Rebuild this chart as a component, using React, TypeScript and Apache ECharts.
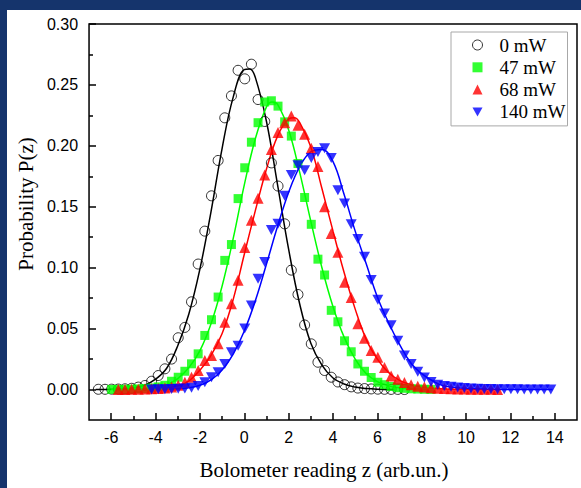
import React, { useEffect, useRef } from "react";
import * as echarts from "echarts";

// Bin centres of the measured histograms (bolometer reading z)
const zGrid = [
  -6.58, -6.28, -5.98, -5.68, -5.38, -5.08, -4.78, -4.48, -4.18, -3.88,
  -3.58, -3.28, -2.98, -2.68, -2.38, -2.08, -1.78, -1.48, -1.18, -0.88,
  -0.58, -0.28, 0.02, 0.32, 0.62, 0.92, 1.22, 1.52, 1.82, 2.12,
  2.42, 2.72, 3.02, 3.32, 3.62, 3.92, 4.22, 4.52, 4.82, 5.12,
  5.42, 5.72, 6.02, 6.32, 6.62, 6.92, 7.22, 7.52, 7.82, 8.12,
  8.42, 8.72, 9.02, 9.32, 9.62, 9.92, 10.22, 10.52, 10.82, 11.12,
  11.42, 11.72, 12.02, 12.32, 12.62, 12.92, 13.22, 13.52, 13.82,
];

// Measured probabilities, each starting at an index of zGrid
const p0Start = 0;
const p0mW = [
  0.0002, 0.0002, 0.0003, 0.0004, 0.0006, 0.001, 0.002, 0.0033, 0.0068, 0.0115,
  0.017, 0.025, 0.0425, 0.051, 0.072, 0.103, 0.13, 0.159, 0.188, 0.223,
  0.241, 0.262, 0.255, 0.267, 0.238, 0.22, 0.186, 0.167, 0.136, 0.098,
  0.078, 0.053, 0.0375, 0.0224, 0.0156, 0.0101, 0.0062, 0.004, 0.0022, 0.0012,
  0.0008, 0.0005, 0.0003, 0.0002, 0.0001, 0.0001, 0.0,
];
const p47Start = 2;
const p47mW = [
  0.0001, 0.0001, 0.0002, 0.0003, 0.0005, 0.0008, 0.0013, 0.0022, 0.0035, 0.0068,
  0.0101, 0.015, 0.0211, 0.0293, 0.0444, 0.0573, 0.0759, 0.106, 0.119, 0.1567,
  0.182, 0.203, 0.219, 0.236, 0.237, 0.2326, 0.2197, 0.208, 0.1855, 0.1576,
  0.1356, 0.107, 0.094, 0.065, 0.0556, 0.04, 0.031, 0.021, 0.015, 0.0099,
  0.006, 0.004, 0.0025, 0.0015, 0.001, 0.0006, 0.0004, 0.0002, 0.0001,
];
const p68Start = 3;
const p68mW = [
  0.0001, 0.0001, 0.0002, 0.0003, 0.0004, 0.0006, 0.0009, 0.0013, 0.002, 0.0035,
  0.006, 0.0101, 0.0156, 0.0238, 0.028, 0.0375, 0.0553, 0.0704, 0.0896, 0.1165,
  0.139, 0.157, 0.176, 0.197, 0.211, 0.219, 0.2244, 0.217, 0.2096, 0.198,
  0.183, 0.15, 0.128, 0.1126, 0.088, 0.0756, 0.054, 0.042, 0.032, 0.0265,
  0.018, 0.0112, 0.0084, 0.0058, 0.004, 0.0028, 0.002, 0.0014, 0.001, 0.0008,
  0.0006, 0.0005, 0.0004, 0.0003, 0.0003, 0.0002, 0.0002, 0.0001,
];
const p140Start = 8;
const p140mW = [
  0.0001, 0.0002, 0.0003, 0.0004, 0.0006, 0.0009, 0.0014, 0.003, 0.006, 0.0101,
  0.0142, 0.021, 0.0307, 0.036, 0.05, 0.069, 0.091, 0.1046, 0.131, 0.136,
  0.159, 0.176, 0.184, 0.18, 0.19, 0.195, 0.198, 0.19, 0.1636, 0.1526,
  0.1356, 0.1236, 0.109, 0.09, 0.0736, 0.0625, 0.0528, 0.04, 0.0279, 0.021,
  0.0145, 0.0099, 0.0062, 0.004, 0.003, 0.0022, 0.0016, 0.0012, 0.0009, 0.0007,
  0.0005, 0.0004, 0.0003, 0.0003, 0.0002, 0.0002, 0.0001, 0.0001, 0.0001, 0.0001,
  0.0,
];

// Fitted curves
const fit0Z = [-6.7, -6, -5.5, -5, -4.5, -4, -3.5, -3, -2.5, -2, -1.5, -1, -0.5, 0, 0.25, 0.5, 1, 1.5, 2, 2.5, 3, 3.5, 4, 4.5, 5, 5.5, 6, 6.74];
const fit0P = [0, 0.0002, 0.0005, 0.0012, 0.0035, 0.0085, 0.0175, 0.036, 0.062, 0.099, 0.146, 0.198, 0.24, 0.2625, 0.263, 0.256, 0.22, 0.168, 0.115, 0.07, 0.038, 0.02, 0.0095, 0.0045, 0.002, 0.0008, 0.0003, 0.0001];
const fit47Z = [-6, -5, -4, -3.5, -3, -2.5, -2, -1.5, -1, -0.5, 0, 0.5, 1, 1.25, 1.5, 2, 2.5, 3, 3.5, 4, 4.5, 5, 5.5, 6, 6.5, 7, 7.5, 8.3];
const fit47P = [0.0001, 0.0003, 0.0015, 0.004, 0.009, 0.018, 0.032, 0.054, 0.085, 0.124, 0.168, 0.206, 0.232, 0.236, 0.234, 0.213, 0.178, 0.138, 0.1, 0.068, 0.043, 0.025, 0.013, 0.0065, 0.003, 0.0013, 0.0006, 0.0001];
const fit68Z = [-5.7, -5, -4, -3, -2.5, -2, -1.5, -1, -0.5, 0, 0.5, 1, 1.5, 2, 2.25, 2.5, 3, 3.5, 4, 4.5, 5, 5.5, 6, 6.5, 7, 7.5, 8, 9, 10, 11.5];
const fit68P = [0.0001, 0.0002, 0.0008, 0.003, 0.007, 0.016, 0.028, 0.046, 0.074, 0.111, 0.147, 0.181, 0.208, 0.222, 0.223, 0.219, 0.199, 0.165, 0.13, 0.096, 0.066, 0.041, 0.025, 0.014, 0.0075, 0.004, 0.002, 0.0005, 0.0002, 0];
const fit140Z = [-4.2, -3, -2.5, -2, -1.5, -1, -0.5, 0, 0.5, 1, 1.5, 2, 2.5, 3, 3.5, 4, 4.5, 5, 5.5, 6, 6.5, 7, 7.5, 8, 8.5, 9, 10, 11, 12, 13.9];
const fit140P = [0.0001, 0.0006, 0.0015, 0.0035, 0.008, 0.016, 0.029, 0.048, 0.073, 0.103, 0.134, 0.162, 0.183, 0.195, 0.197, 0.187, 0.16, 0.13, 0.103, 0.076, 0.055, 0.037, 0.022, 0.013, 0.007, 0.003, 0.001, 0.0003, 0.0001, 0];

const seriesNames = ["0 mW", "47 mW", "68 mW", "140 mW"];

// Axis ticks
const zMajor = [-6, -4, -2, 0, 2, 4, 6, 8, 10, 12, 14];
const zMinor = [-5, -3, -1, 1, 3, 5, 7, 9, 11, 13];
const pMajor = [0, 0.05, 0.1, 0.15, 0.2, 0.25, 0.3];
const pMinor = [0.025, 0.075, 0.125, 0.175, 0.225, 0.275];

const INV_TRI = "path://M0,0L10,0L5,9Z";

function measured(start: number, vals: number[]) {
  return vals.map((p, i) => [zGrid[start + i], p]);
}
function curve(zs: number[], ps: number[]) {
  return zs.map((z, i) => [z, ps[i]]);
}

export default function App() {
  const ref = useRef<HTMLDivElement>(null);

  useEffect(() => {
    if (!ref.current) return;
    const chart = echarts.init(ref.current, null, { renderer: "svg" });
    const tickStyle = { color: "#000", width: 1.5 };
    const hiddenLine = { show: false, onZero: false };
    const lineSeries = (name: string, data: number[][], color: string) => ({
      name,
      type: "line",
      data,
      smooth: 0.4,
      showSymbol: false,
      silent: true,
      lineStyle: { color, width: 1.5 },
      itemStyle: { color },
      z: 2,
    });
    const option = {
      animation: false,
      backgroundColor: "#ffffff",
      grid: {
        left: 80,
        top: 14,
        right: 4,
        bottom: 68,
        show: true,
        borderColor: "#000",
        borderWidth: 1.5,
        backgroundColor: "transparent",
      },
      legend: {
        orient: "vertical",
        left: 444,
        top: 22,
        itemWidth: 10,
        itemHeight: 10,
        itemGap: 2.3,
        padding: [3, 2, 4, 21],
        borderColor: "#a8a8a8",
        borderWidth: 1,
        selectedMode: false,
        textStyle: {
          fontFamily: "Liberation Serif",
          fontSize: 19,
          lineHeight: 20,
          width: 66,
          overflow: "none",
          color: "#000",
          padding: [0, 0, 0, 12],
        },
        data: [
          { name: seriesNames[0], icon: "circle", itemStyle: { color: "rgba(0,0,0,0)", borderColor: "#000", borderWidth: 1 } },
          { name: seriesNames[1], icon: "rect", itemStyle: { color: "#00ff00", borderWidth: 0 } },
          { name: seriesNames[2], icon: "triangle", itemStyle: { color: "#ff0000", borderWidth: 0 } },
          { name: seriesNames[3], icon: INV_TRI, itemStyle: { color: "#0000ff", borderWidth: 0 } },
        ],
      },
      xAxis: [
        {
          type: "value",
          min: -7,
          max: 15,
          position: "bottom",
          axisLine: hiddenLine,
          splitLine: { show: false },
          axisTick: { show: true, inside: true, length: 7, customValues: zMajor, lineStyle: tickStyle },
          axisLabel: {
            customValues: zMajor,
            margin: 9,
            color: "#000",
            fontFamily: "Liberation Sans",
            fontSize: 16,
          },
          name: "Bolometer reading z (arb.un.)",
          nameLocation: "middle",
          nameGap: 39,
          nameTextStyle: {
            fontFamily: "Liberation Serif",
            fontSize: 21,
            color: "#000",
            padding: [0, 18, 0, 0],
          },
        },
        {
          type: "value",
          min: -7,
          max: 15,
          position: "bottom",
          axisLine: hiddenLine,
          splitLine: { show: false },
          axisTick: { show: true, inside: true, length: 4, customValues: zMinor, lineStyle: tickStyle },
          axisLabel: { show: false },
        },
      ],
      yAxis: [
        {
          type: "value",
          min: -0.025,
          max: 0.3,
          position: "left",
          axisLine: hiddenLine,
          splitLine: { show: false },
          axisTick: { show: true, inside: true, length: 7, customValues: pMajor, lineStyle: tickStyle },
          axisLabel: {
            customValues: pMajor,
            margin: 11,
            color: "#000",
            fontFamily: "Liberation Sans",
            fontSize: 16,
            formatter: (v: number) => v.toFixed(2),
          },
          name: "Probability P(z)",
          nameLocation: "middle",
          nameGap: 53,
          nameTextStyle: {
            fontFamily: "Liberation Serif",
            fontSize: 21,
            color: "#000",
            padding: [0, 0, 0, 36],
          },
        },
        {
          type: "value",
          min: -0.025,
          max: 0.3,
          position: "left",
          axisLine: hiddenLine,
          splitLine: { show: false },
          axisTick: { show: true, inside: true, length: 4, customValues: pMinor, lineStyle: tickStyle },
          axisLabel: { show: false },
        },
      ],
      series: [
        lineSeries("fit 0", curve(fit0Z, fit0P), "#000000"),
        {
          name: seriesNames[0],
          type: "scatter",
          data: measured(p0Start, p0mW),
          symbol: "circle",
          symbolSize: 10,
          itemStyle: { color: "rgba(0,0,0,0)", borderColor: "#000", borderWidth: 1 },
          z: 3,
        },
        lineSeries("fit 47", curve(fit47Z, fit47P), "#00ff00"),
        {
          name: seriesNames[1],
          type: "scatter",
          data: measured(p47Start, p47mW),
          symbol: "rect",
          symbolSize: 9,
          itemStyle: { color: "#00ff00" },
          z: 3,
        },
        lineSeries("fit 68", curve(fit68Z, fit68P), "#ff0000"),
        {
          name: seriesNames[2],
          type: "scatter",
          data: measured(p68Start, p68mW),
          symbol: "triangle",
          symbolSize: 11,
          itemStyle: { color: "#ff0000" },
          z: 3,
        },
        lineSeries("fit 140", curve(fit140Z, fit140P), "#0000ff"),
        {
          name: seriesNames[3],
          type: "scatter",
          data: measured(p140Start, p140mW),
          symbol: INV_TRI,
          symbolSize: [11, 10],
          itemStyle: { color: "#0000ff" },
          z: 3,
        },
      ],
    };
    chart.setOption(option as any);
    return () => chart.dispose();
  }, []);

  return (
    <div
      style={{
        position: "absolute",
        left: 0,
        top: 0,
        width: 581,
        height: 488,
        background: "#15346c",
        overflow: "hidden",
      }}
    >
      <div
        ref={ref}
        style={{
          position: "absolute",
          left: 7,
          top: 10,
          width: 574,
          height: 478,
          background: "#ffffff",
        }}
      />
    </div>
  );
}
